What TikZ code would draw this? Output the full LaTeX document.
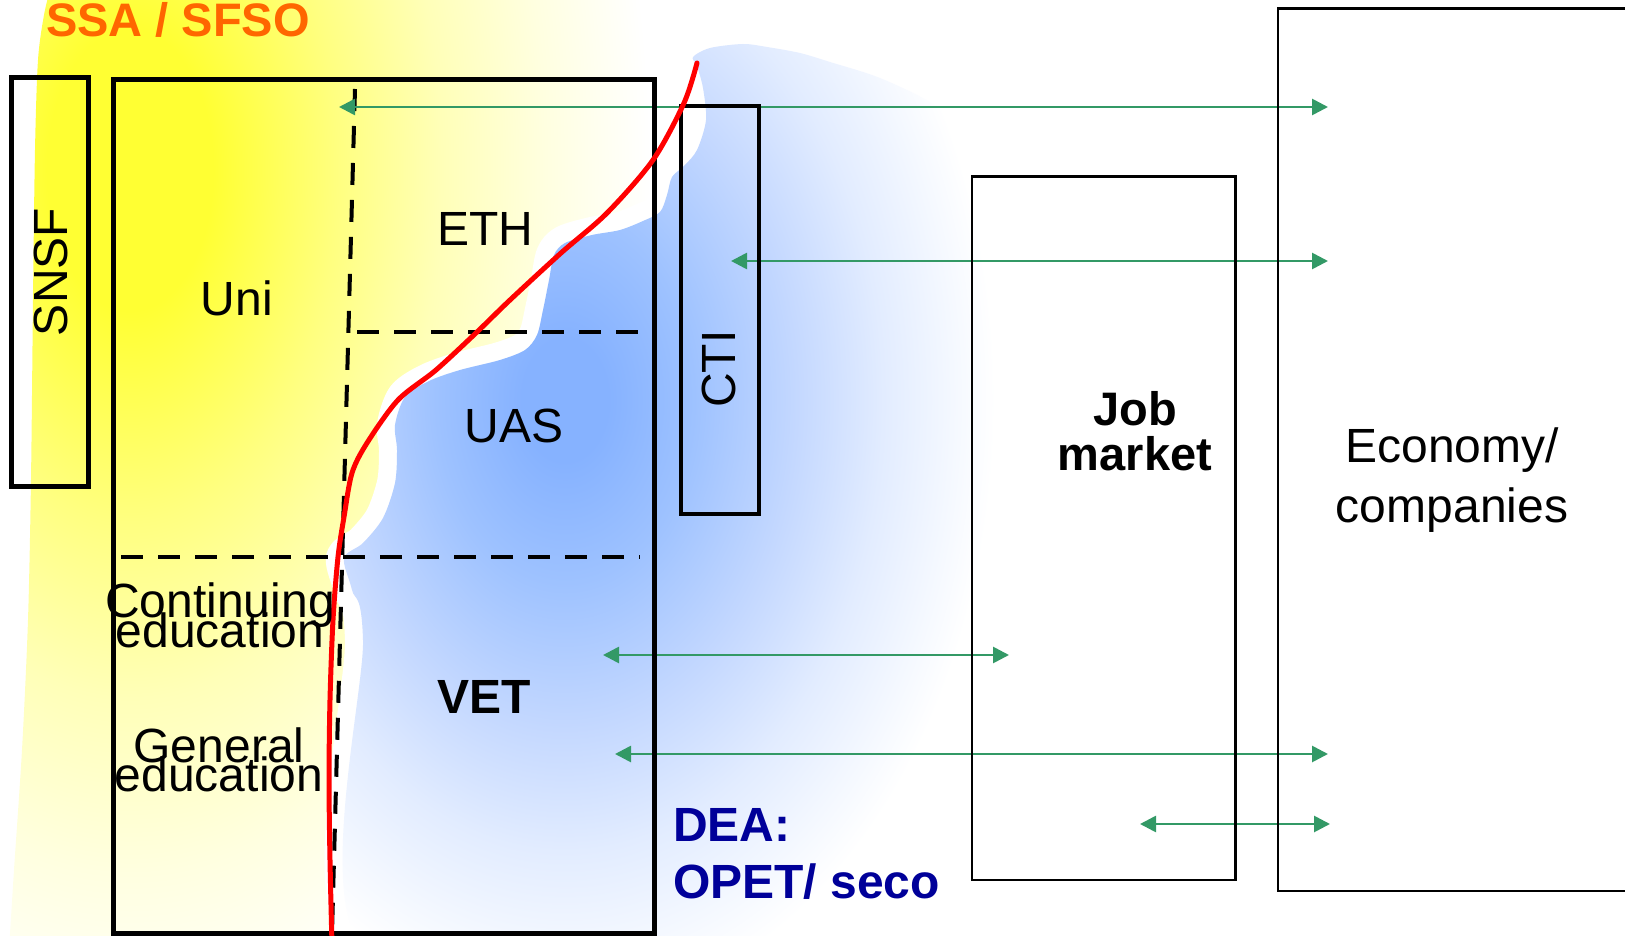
\documentclass[tikz,border=0pt]{standalone}
\usepackage{fontspec}
\setmainfont{Liberation Sans}
\usetikzlibrary{arrows.meta}
\definecolor{linkgreen}{HTML}{339966}
\definecolor{ssaorange}{HTML}{FF6600}
\definecolor{deablue}{HTML}{000099}
\definecolor{redc}{HTML}{FF0000}
\definecolor{yA}{HTML}{FFFF33}
\definecolor{yB}{HTML}{FFFF80}
\definecolor{yC}{HTML}{FFFFB8}
\definecolor{yD}{HTML}{FFFFE0}
\definecolor{bA}{HTML}{86B2FF}
\definecolor{bB}{HTML}{9EC2FF}
\definecolor{bC}{HTML}{C4D8FF}
\definecolor{bD}{HTML}{E2ECFF}
\definecolor{bE}{HTML}{F4F8FF}
\pgfdeclareradialshading{yglow}{\pgfpoint{0bp}{0bp}}{color(0bp)=(yA); color(4bp)=(yA); color(10bp)=(yB); color(15bp)=(yC); color(20bp)=(yD); color(25bp)=(white); color(50bp)=(white)}
\pgfdeclareradialshading{bglow}{\pgfpoint{0bp}{0bp}}{color(0bp)=(bA); color(2.5bp)=(bA); color(7.5bp)=(bB); color(13.5bp)=(bC); color(18.5bp)=(bD); color(22.5bp)=(bE); color(25bp)=(white); color(50bp)=(white)}
\tikzset{
  frame/.style={draw=black, line width=4.5pt, inner sep=0pt, outer sep=0pt},
  thinframe/.style={draw=black, line width=2.7pt, inner sep=0pt, outer sep=0pt},
  divider/.style={black, line width=4pt, dash pattern=on 22pt off 15pt},
  link/.style={draw=linkgreen, line width=2.7pt, {Triangle[length=16pt,width=16pt]}-{Triangle[length=16pt,width=16pt]}},
  redline/.style={draw=redc, line width=5pt, line cap=round, line join=round},
  lbl/.style={inner sep=0pt, outer sep=0pt, anchor=base, font=\fontsize{48}{58}\selectfont},
  blbl/.style={lbl, font=\bfseries\fontsize{48}{58}\selectfont},
  tight/.style={font={\fontsize{48}{#1}\selectfont\lineskiplimit=-100pt}}
}
\begin{document}
\begin{tikzpicture}[x=1pt,y=-1pt]
\useasboundingbox (0,0) rectangle (1625,936);
\clip (0,0) rectangle (1625,936);
% yellow glow (SSA / SFSO)
\begin{scope}
  \clip plot[smooth, tension=0.5] coordinates {(50,-10) (44,15) (38,60) (35,150) (33,300) (31,480) (28,620) (22,750) (14,870) (9,950)} -- (1100,950) -- (1100,-10) -- cycle;
  \shade[shading=yglow] (130,170) ellipse [x radius=520, y radius=880];
\end{scope}
% blue cloud (DEA) with white rim
\fill[white, draw=white, line width=36pt, line join=round] plot[smooth cycle, tension=0.5] coordinates {(693,57) (710,48) (743,44) (767,47) (800,53) (830,62) (880,78) (933,104) (975,140) (1040,220) (1080,400) (1080,700) (1080,945) (700,950) (363,945) (363,640) (352,590) (344,558) (363,543) (383,518) (395,483) (397,450) (395,425) (405,397) (429,381) (460,370) (500,360) (525,350) (537,335) (543,310) (549,280) (554,255) (565,243) (592,235) (620,230) (643,221) (660,212) (667,195) (672,177) (684,166) (697,150) (706,120) (703,88) (697,66)};
\begin{scope}
  \clip plot[smooth cycle, tension=0.5] coordinates {(693,57) (710,48) (743,44) (767,47) (800,53) (830,62) (880,78) (933,104) (975,140) (1040,220) (1080,400) (1080,700) (1080,945) (700,950) (363,945) (363,640) (352,590) (344,558) (363,543) (383,518) (395,483) (397,450) (395,425) (405,397) (429,381) (460,370) (500,360) (525,350) (537,335) (543,310) (549,280) (554,255) (565,243) (592,235) (620,230) (643,221) (660,212) (667,195) (672,177) (684,166) (697,150) (706,120) (703,88) (697,66)};
  \shade[shading=bglow] (565,400) ellipse [x radius=430, y radius=610];
\end{scope}
% dashed dividers
\draw[divider] (355,89) -- (332,933);
\draw[divider] (357,332) -- (641,332);
\draw[divider] (121,557) -- (640,557);
% arrows
\coordinate (a1l) at (339,107);  \coordinate (a1r) at (1328,107);
\coordinate (a2l) at (731,261);  \coordinate (a2r) at (1328,261);
\coordinate (a3l) at (603,655);  \coordinate (a3r) at (1009,655);
\coordinate (a4l) at (615,754);  \coordinate (a4r) at (1328,754);
\coordinate (a5l) at (1140,824); \coordinate (a5r) at (1330,824);
\draw[link] (a1l) -- (a1r);
\draw[link] (a2l) -- (a2r);
\draw[link] (a3l) -- (a3r);
\draw[link] (a4l) -- (a4r);
\draw[link] (a5l) -- (a5r);
% boxes
\node[frame, minimum width=541pt, minimum height=854pt] (mainbox) at (384,506.5) {};
\node[frame, minimum width=77pt, minimum height=409pt] (snsfbox) at (50,282) {};
\node[frame, minimum width=78pt, minimum height=408pt] (ctibox) at (720,310) {};
\node[thinframe, minimum width=263.5pt, minimum height=703.5pt] (jobbox) at (1103.75,528.25) {};
\node[thinframe, minimum width=372pt, minimum height=882.5pt] (ecobox) at (1464,449.75) {};
% red boundary
\draw[redline] plot[smooth, tension=0.5] coordinates {(697,63) (684,103) (653,160) (607,213) (561,253) (510,300) (477,332) (436,370) (398,400) (367,443) (352,473) (344,517) (338,557) (333,620) (330,700) (329,780) (330,860) (332,945)};
% labels
\node[blbl, anchor=base west, text=ssaorange, font=\bfseries\fontsize{47}{56}\selectfont] (ssa) at (46,37) {SSA / SFSO};
\node[lbl, rotate=90, anchor=center] (snsf) at (50.5,272) {SNSF};
\node[lbl] (uni) at (237,315) {Uni};
\node[lbl] (eth) at (485,245) {ETH};
\node[lbl] (uas) at (514,442) {UAS};
\node[lbl, rotate=90, anchor=center] (cti) at (719,369) {CTI};
\node[lbl, align=center, tight=30] (cont) at (220,647) {Continuing\\education};
\node[lbl, align=center, tight=29] (gen) at (219,791) {General\\education};
\node[blbl] (vet) at (484,713) {VET};
\node[blbl, anchor=base west, align=left, text=deablue, font=\bfseries\fontsize{48}{57}\selectfont] (dea) at (673,898) {DEA:\\OPET/ seco};
\node[blbl, align=center, font=\bfseries\fontsize{47}{45}\selectfont] (job) at (1135,470) {Job\\market};
\node[lbl, align=center, font=\fontsize{48}{60}\selectfont] (eco) at (1452,522) {Economy/\\companies};
\end{tikzpicture}
\end{document}
